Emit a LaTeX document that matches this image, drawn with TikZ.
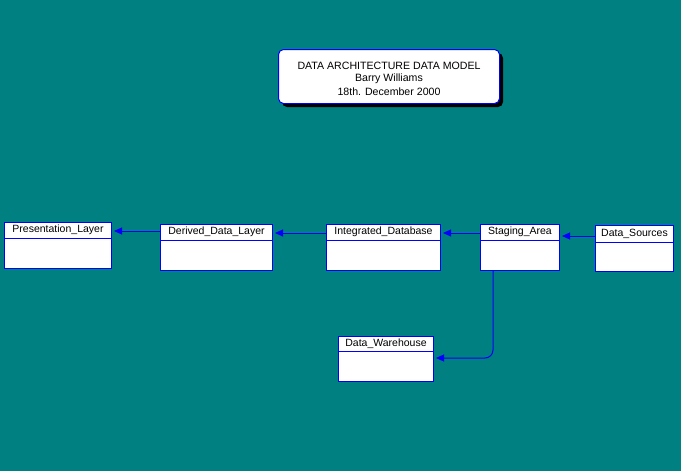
\documentclass[tikz,border=0pt]{standalone}
\usepackage{fontspec}
\setmainfont{Liberation Sans}
\usetikzlibrary{arrows.meta,calc}
\definecolor{bgteal}{HTML}{008080}
\definecolor{linkblue}{HTML}{0000FF}
\begin{document}
\begin{tikzpicture}[x=1pt,y=1pt,
  entity/.style={draw=linkblue, line width=1pt, fill=white, anchor=north west, inner sep=0pt},
  divider/.style={draw=linkblue, line width=1pt},
  label/.style={font=\fontsize{10.5}{12}\selectfont, inner sep=0pt, text=black},
  titletext/.style={font=\fontsize{10.6}{12}\selectfont, inner sep=0pt, text=black},
  link/.style={draw=linkblue, line width=1pt, -{Triangle[length=8pt,width=7pt]}, shorten >=2pt},
  titlebox/.style={draw=linkblue, line width=1pt, fill=white, rounded corners=5pt, minimum width=221pt, minimum height=54pt, anchor=north west}
]
\fill[bgteal] (0,0) rectangle (681,-471);
\useasboundingbox (0,0) rectangle (681,-471);

% title
\fill[black, rounded corners=5pt] (282,-53) rectangle (503,-107);
\node[titlebox] (title) at (278,-49) {};
\node[titletext] (t1) at (389,-66) {DATA ARCHITECTURE DATA MODEL};
\node[titletext] (t2) at (389,-79) {Barry Williams};
\node[titletext] (t3) at (389,-92) {18th. December 2000};

% entities
\newcommand{\entitybox}[7]{%
  \node[entity, minimum width=#4pt, minimum height=#5pt] (#1) at (#2,#3) {};
  \draw[divider] ($(#1.north west)+(0,-#6)$) -- ($(#1.north east)+(0,-#6)$);
  \node[label] (#1-lbl) at ($(#1.north)+(0,-#6/2)$) {#7};
}
\entitybox{pres}{4}{-222}{107}{46}{16}{Presentation\_Layer}
\entitybox{deriv}{160}{-224}{112}{46}{16}{Derived\_Data\_Layer}
\entitybox{integ}{326}{-224}{114}{46}{16}{Integrated\_Database}
\entitybox{stage}{480}{-224}{79}{46}{16}{Staging\_Area}
\entitybox{src}{595}{-225}{78}{46}{17}{Data\_Sources}
\entitybox{wh}{338}{-336}{95}{45}{15}{Data\_Warehouse}

% connectors
\draw[link] (deriv.west |- 0,-231) -- (pres.east |- 0,-231);
\draw[link] (integ.west |- 0,-233) -- (deriv.east |- 0,-233);
\draw[link] (stage.west |- 0,-233) -- (integ.east |- 0,-233);
\draw[link] (src.west |- 0,-236) -- (stage.east |- 0,-236);
\coordinate (bend) at (493,-358);
\draw[link, rounded corners=8pt] (stage.south -| 493,0) -- (bend) -- (wh.east |- bend);
\end{tikzpicture}
\end{document}
